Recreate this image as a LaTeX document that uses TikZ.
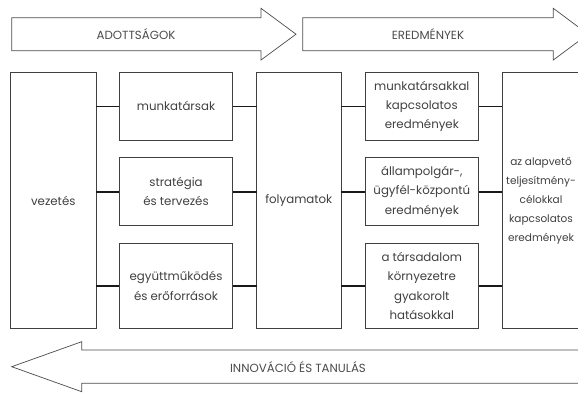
\documentclass[tikz,border=0pt]{standalone}
\usepackage{fontspec}
\setmainfont{Poppins}
\usetikzlibrary{positioning}
\newcommand{\boxfont}{\fontsize{11.8}{19.3}\selectfont}
\tikzset{
  box/.style={draw=black!75, line width=0.8pt, minimum width=113.5pt, inner sep=0pt, outer sep=0pt, align=center, text=black!75, font=\boxfont},
  tall/.style={box, minimum width=85.3pt, minimum height=255.6pt},
  link/.style={line width=1.8pt, black!90},
  band/.style={draw=black!70, line width=0.7pt, fill=white},
  bandtext/.style={text=black!70, font=\boxfont},
}

\begin{document}
\begin{tikzpicture}[x=1pt, y=-1pt]
		%%%%% START %%%%%
		\useasboundingbox (0,0) rectangle (578,392);
		
		% upper bands
		\draw[band] (11.7,17.7) -- (261,17.7) -- (261,8.3) -- (296,34.2) -- (261,60) -- (261,50.7) -- (11.7,50.7) -- cycle;
		\node[bandtext] (adott) at (136,34.2) {ADOTTSÁGOK};
		\draw[band] (302.7,17.7) -- (553.3,17.7) -- (553.3,8.3) -- (588,34.2) -- (553.3,60) -- (553.3,50.7) -- (302.7,50.7) -- cycle;
		\node[bandtext] (eredm) at (428,34.2) {EREDMÉNYEK};
		
		% boxes
		\node[tall] (vezetes) at (53.3,200.5) {vezetés};
		\node[box, minimum height=67.3pt] (munka) at (176,106.4) {munkatársak};
		\node[box, minimum height=68pt] (strat) at (176,191.7) {stratégia\\és tervezés};
		\node[box, minimum height=85pt] (egyutt) at (176,285.8) {együttműködés\\és erőforrások};
		\node[tall, minimum width=84.3pt] (folyam) at (298.8,200.5) {folyamatok};
		\node[box, minimum height=67.3pt] (mkeredm) at (421.8,106.4) {munkatársakkal\\kapcsolatos\\eredmények};
		\node[box, minimum height=68pt] (ugyfel) at (421.8,191.7) {állampolgár-,\\ügyfél-központú\\eredmények};
		\node[box, minimum height=85pt] (tars) at (421.8,285.8) {a társadalom\\környezetre\\gyakorolt\\hatásokkal};
		\node[tall, minimum width=77.4pt, font=\fontsize{10.5}{19}\selectfont] (alap) at (541,200.5) {az alapvető\\teljesítmény-\\célokkal\\kapcsolatos\\eredmények};
		
		% links
		\foreach \r in {munka,strat,egyutt}{
			\draw[link] (vezetes.east |- \r.west) -- (\r.west);
			\draw[link] (\r.east) -- (folyam.west |- \r.east);
		}
		\foreach \r in {mkeredm,ugyfel,tars}{
			\draw[link] (folyam.east |- \r.west) -- (\r.west);
			\draw[link] (\r.east) -- (alap.west |- \r.east);
		}
		
		% lower band
		\draw[band] (11.7,366.7) -- (81.7,341.7) -- (81.7,350) -- (600,350) -- (600,383.3) -- (81.7,383.3) -- (81.7,391.7) -- cycle;
		\node[bandtext] (innov) at (298,366.7) {INNOVÁCIÓ ÉS TANULÁS};
		
		%%%%% END %%%%%
	\end{tikzpicture}
\end{document}
